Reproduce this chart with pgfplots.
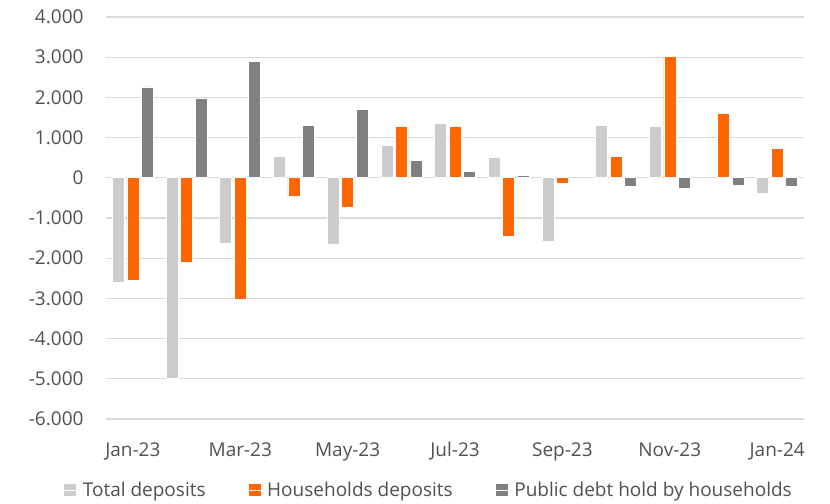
\documentclass[border=0pt]{standalone}
\usepackage{pgfplots}
\pgfplotsset{compat=1.18}
\usepackage{fontspec}
\setmainfont{Open Sans}
\definecolor{totc}{HTML}{CCCCCC}
\definecolor{hhc}{HTML}{FF6600}
\definecolor{pubc}{HTML}{808080}
\definecolor{txt}{HTML}{505050}
\definecolor{grd}{HTML}{D9D9D9}
\begin{document}
\begin{tikzpicture}
\begin{axis}[
  scale only axis,
  width=698pt, height=402pt,
  xmin=-0.5, xmax=12.5,
  ymin=-6000, ymax=4000,
  ytick={-6000,-5000,...,4000},
  xtick={0,2,4,6,8,10,12},
  xticklabels={Jan-23,Mar-23,May-23,Jul-23,Sep-23,Nov-23,Jan-24},
  ybar=2.5pt, bar width=12pt,
  ymajorgrids, major grid style={color=grd, line width=1.3pt},
  axis line style={draw=none},
  major tick length=0pt,
  font=\fontsize{19}{23}\selectfont\color{txt},
  /pgf/number format/assume math mode=true,
  /pgf/number format/.cd, 1000 sep={.}, /pgfplots/.cd,
  yticklabel style={xshift=-19pt},
  xticklabel style={yshift=-20pt},
  clip=false,
  legend columns=3,
  legend style={draw=none, at={(0.462,-0.177)}, anchor=center,
    font=\fontsize{19}{23}\selectfont\color{txt},
    /tikz/every even column/.append style={column sep=40pt}},
  legend image code/.code={\fill[#1] (0pt,-6.5pt) rectangle (13pt,6.5pt); \path (0pt,0pt) -- (17pt,0pt);},
  every axis plot/.append style={draw=white, line width=0.6pt},
]
\addplot[fill=totc] coordinates {(0,-2600) (1,-4990) (2,-1640) (3,530) (4,-1660) (5,810) (6,1360) (7,520) (8,-1570) (9,1310) (10,1270) (12,-380)};
\addplot[fill=hhc] coordinates {(0,-2560) (1,-2090) (2,-3030) (3,-470) (4,-740) (5,1280) (6,1270) (7,-1450) (8,-140) (9,540) (10,3010) (11,1600) (12,730)};
\addplot[fill=pubc] coordinates {(0,2260) (1,1975) (2,2890) (3,1300) (4,1710) (5,440) (6,165) (7,50) (9,-210) (10,-250) (11,-180) (12,-210)};
\legend{Total deposits, Households deposits, Public debt hold by households}
\path (axis description cs:-0.1519,-0.209) rectangle (axis description cs:1.0372,1.0423);
\end{axis}
\end{tikzpicture}
\end{document}
